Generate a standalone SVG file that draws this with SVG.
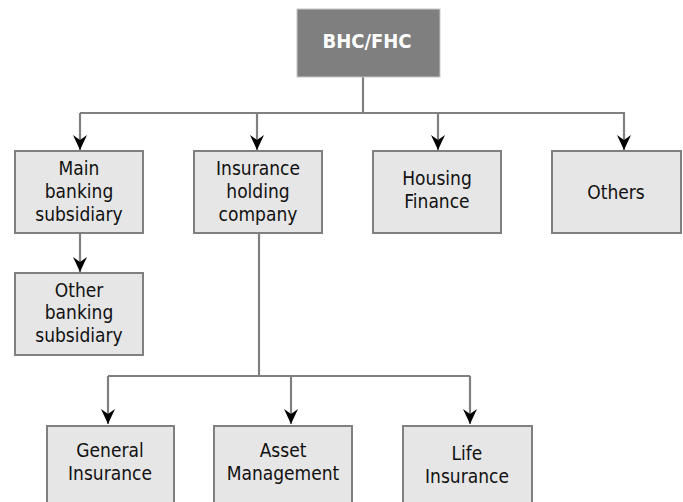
<svg xmlns="http://www.w3.org/2000/svg" width="683" height="502" viewBox="0 0 683 502">
<style>
.box{fill:#e6e6e6;stroke:#808080;stroke-width:2}
.top{fill:#7f7f7f;stroke:#c8c8c8;stroke-width:1}
.t{font-family:"DejaVu Sans Condensed","DejaVu Sans",sans-serif;font-stretch:condensed;font-size:19px;fill:#111;text-anchor:middle}
.tw{font-family:"DejaVu Sans Condensed","DejaVu Sans",sans-serif;font-stretch:condensed;font-size:20px;font-weight:bold;fill:#fff;text-anchor:middle}
.c{fill:none;stroke:#808080;stroke-width:2.2}
</style>
<defs>
<marker id="ah" markerUnits="userSpaceOnUse" markerWidth="16" markerHeight="14" refX="15" refY="7" orient="auto">
<path d="M15,7 L0,0 L5,7 L0,14 Z" fill="#000"/>
</marker>
</defs>
<g id="connectors">
<path class="c" d="M363,77 V113"/>
<path class="c" d="M80,113 H625"/>
<path class="c" d="M80,113 V150" marker-end="url(#ah)"/>
<path class="c" d="M257,113 V150" marker-end="url(#ah)"/>
<path class="c" d="M438,113 V150" marker-end="url(#ah)"/>
<path class="c" d="M624,113 V150" marker-end="url(#ah)"/>
<path class="c" d="M80,233 V272" marker-end="url(#ah)"/>
<path class="c" d="M259,233 V376"/>
<path class="c" d="M108,376 H470"/>
<path class="c" d="M108,376 V424" marker-end="url(#ah)"/>
<path class="c" d="M291,376 V424" marker-end="url(#ah)"/>
<path class="c" d="M470,376 V424" marker-end="url(#ah)"/>
</g>
<g id="bhc">
<rect class="top" x="297" y="9" width="143" height="68"/>
<text class="tw" x="367" y="48">BHC/FHC</text>
</g>
<g id="main-banking">
<rect class="box" x="15" y="151" width="128" height="82"/>
<text class="t" x="79" y="175">Main</text>
<text class="t" x="79" y="198">banking</text>
<text class="t" x="79" y="221">subsidiary</text>
</g>
<g id="insurance-holding">
<rect class="box" x="194" y="151" width="128" height="82"/>
<text class="t" x="258" y="175">Insurance</text>
<text class="t" x="258" y="198">holding</text>
<text class="t" x="258" y="221">company</text>
</g>
<g id="housing">
<rect class="box" x="373" y="151" width="128" height="82"/>
<text class="t" x="437" y="185">Housing</text>
<text class="t" x="437" y="208">Finance</text>
</g>
<g id="others">
<rect class="box" x="552" y="151" width="129" height="82"/>
<text class="t" x="616" y="199">Others</text>
</g>
<g id="other-banking">
<rect class="box" x="15" y="273" width="128" height="82"/>
<text class="t" x="79" y="297">Other</text>
<text class="t" x="79" y="319">banking</text>
<text class="t" x="79" y="342">subsidiary</text>
</g>
<g id="general">
<rect class="box" x="47" y="426" width="127" height="82"/>
<text class="t" x="110" y="457">General</text>
<text class="t" x="110" y="480">Insurance</text>
</g>
<g id="asset">
<rect class="box" x="214" y="426" width="138" height="82"/>
<text class="t" x="283" y="457">Asset</text>
<text class="t" x="283" y="480">Management</text>
</g>
<g id="life">
<rect class="box" x="403" y="426" width="129" height="82"/>
<text class="t" x="467" y="460">Life</text>
<text class="t" x="467" y="483">Insurance</text>
</g>
</svg>
